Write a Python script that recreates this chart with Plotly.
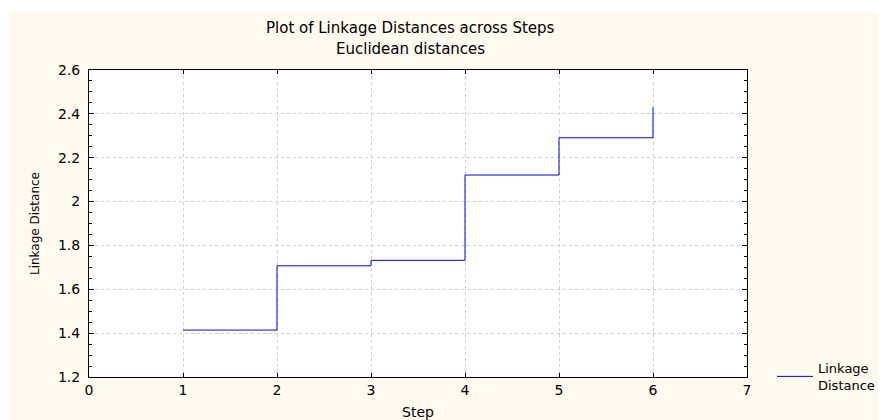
import plotly.graph_objects as go

steps = [1, 2, 3, 4, 5, 6]
distances = [1.414, 1.707, 1.732, 2.121, 2.291, 2.43]
x_ticks = [0, 1, 2, 3, 4, 5, 6, 7]
y_ticks = [1.2, 1.4, 1.6, 1.8, 2.0, 2.2, 2.4, 2.6]
y_tick_labels = ["1.2", "1.4", "1.6", "1.8", "2", "2.2", "2.4", "2.6"]

FONT = "DejaVu Sans, Liberation Sans, Arial, sans-serif"
CREAM = "#fffaef"
OFF = 8  # page body margin

W, H = 886, 420
L, R, T, B = 89 - OFF, 886 - (747 - OFF), 70 - OFF, 420 - (377 - OFF)
pw, ph = W - L - R, H - T - B

def px_x(p):
    return (p - OFF - L) / pw

def px_y(p):
    return (H - B - (p - OFF)) / ph

fig = go.Figure()
fig.add_trace(go.Scatter(
    x=steps, y=distances, mode="lines", line_shape="hv",
    line=dict(color="#0000ff", width=1),
    name="Linkage<br>Distance", showlegend=True,
))

fig.update_layout(
    width=W, height=H,
    margin=dict(l=L, r=R, t=T, b=B, pad=0),
    paper_bgcolor=CREAM, plot_bgcolor="white",
    font=dict(family=FONT, size=13, color="black"),
    showlegend=True,
    legend=dict(x=px_x(772), y=px_y(353), xanchor="left", yanchor="top",
                bgcolor="rgba(0,0,0,0)", font=dict(size=13, family=FONT),
                itemwidth=36, tracegroupgap=0),
    shapes=[
        dict(type="rect", xref="paper", yref="paper", x0=px_x(OFF), x1=px_x(W + OFF),
             y0=px_y(OFF), y1=px_y(12), fillcolor="white", line_width=0, layer="below"),
        dict(type="rect", xref="paper", yref="paper", x0=px_x(OFF), x1=px_x(10),
             y0=px_y(OFF), y1=px_y(H + OFF), fillcolor="white", line_width=0, layer="below"),
    ],
    annotations=[
        dict(text="Plot of Linkage Distances across Steps", xref="paper", yref="paper",
             x=px_x(410), y=px_y(28), xanchor="center", yanchor="middle",
             showarrow=False, font=dict(size=15, family=FONT)),
        dict(text="Euclidean distances", xref="paper", yref="paper",
             x=px_x(410), y=px_y(49), xanchor="center", yanchor="middle",
             showarrow=False, font=dict(size=15, family=FONT)),
        dict(text="Step", xref="paper", yref="paper",
             x=px_x(418), y=px_y(412), xanchor="center", yanchor="middle",
             showarrow=False, font=dict(size=14, family=FONT)),
        dict(text="Linkage Distance", xref="paper", yref="paper",
             x=px_x(35), y=px_y(224), xanchor="center", yanchor="middle",
             textangle=-90, showarrow=False, font=dict(size=12, family=FONT)),
    ],
)

fig.update_xaxes(
    range=[0, 7], tickvals=x_ticks, ticktext=[str(v) for v in x_ticks],
    showline=True, linecolor="black", linewidth=1, mirror="allticks",
    ticks="inside", ticklen=4, tickcolor="black",
    showgrid=True, gridcolor="#d0d0d0", griddash="dot", gridwidth=1,
    zeroline=False, tickfont=dict(size=14, family=FONT),
)
fig.update_yaxes(
    range=[1.2, 2.6], tickvals=y_ticks, ticktext=y_tick_labels,
    showline=True, linecolor="black", linewidth=1, mirror="allticks",
    ticks="inside", ticklen=5, tickcolor="black", ticklabelstandoff=5,
    minor=dict(dtick=0.05, ticks="inside", ticklen=3, tickcolor="black", showgrid=False),
    showgrid=True, gridcolor="#d0d0d0", griddash="dot", gridwidth=1,
    zeroline=False, tickfont=dict(size=14, family=FONT),
)

fig.write_html("out.html")
